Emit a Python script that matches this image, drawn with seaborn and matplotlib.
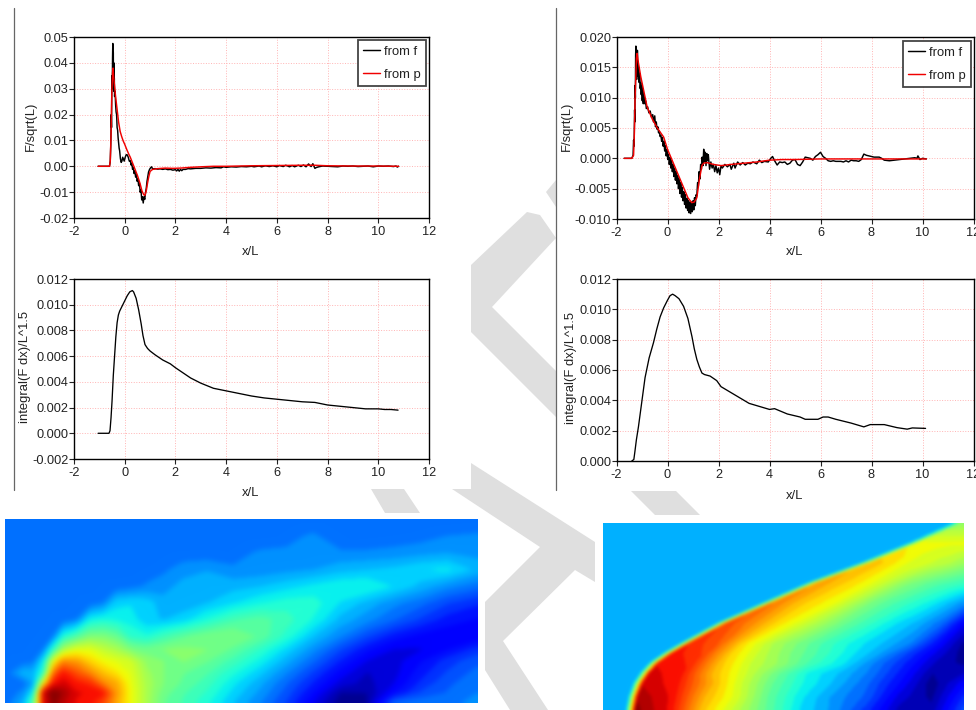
import numpy as np
import pandas as pd
import seaborn as sns
import matplotlib
matplotlib.use("Agg")
import matplotlib.pyplot as plt
from matplotlib.patches import Polygon
from matplotlib.ticker import FormatStrFormatter, MultipleLocator

# === Values ===
left_f_x = [-1.05, -0.60, -0.57, -0.55, -0.53, -0.52, -0.51, -0.50, -0.49, -0.48,
            -0.47, -0.46, -0.45, -0.44, -0.43, -0.42, -0.41, -0.40, -0.38, -0.36,
            -0.34, -0.32, -0.30, -0.28, -0.26, -0.24, -0.22, -0.20, -0.17, -0.14,
            -0.11, -0.08, -0.05, -0.02, 0.02, 0.06, 0.10, 0.14, 0.18, 0.22,
            0.25, 0.28, 0.31, 0.34, 0.37, 0.40, 0.43, 0.46, 0.49, 0.52,
            0.55, 0.58, 0.61, 0.64, 0.67, 0.70, 0.73, 0.76, 0.79, 0.82,
            0.85, 0.88, 0.91, 0.94, 0.98, 1.02, 1.06, 1.10, 1.20, 1.30,
            1.40, 1.50, 1.60, 1.70, 1.80, 1.90, 2.00, 2.05, 2.10, 2.15,
            2.20, 2.25, 2.30, 2.40, 2.50, 2.60, 2.80, 3.00, 3.20, 3.40,
            3.60, 3.80, 3.90, 4.00, 4.20, 4.40, 4.60, 4.80, 5.00, 5.10,
            5.30, 5.40, 5.55, 5.70, 5.85, 6.00, 6.10, 6.25, 6.35, 6.50,
            6.60, 6.70, 6.85, 6.95, 7.05, 7.15, 7.25, 7.35, 7.42, 7.50,
            7.55, 7.65, 7.80, 8.00, 8.20, 8.40, 8.60, 8.80, 9.00, 9.20,
            9.40, 9.60, 9.80, 10.00, 10.20, 10.40, 10.60, 10.70, 10.75, 10.80]
left_f_y = [0, 0, 0.002, 0.008, 0.020, 0.015, 0.030, 0.035, 0.030, 0.042,
            0.0475, 0.032, 0.044, 0.030, 0.040, 0.029, 0.034, 0.027, 0.029, 0.024,
            0.021, 0.020, 0.015, 0.014, 0.011, 0.009, 0.007, 0.006, 0.003, 0.0015,
            0.002, 0.0035, 0.0028, 0.002, 0.0035, 0.0045, 0.0044, 0.0035, 0.002, 0.0022,
            0.0005, 0.0012, -0.0012, -0.0005, -0.0028, -0.0018, -0.0042, -0.0032, -0.0058, -0.0048,
            -0.0075, -0.0066, -0.0100, -0.0090, -0.0130, -0.0118, -0.0142, -0.0118, -0.0128, -0.0102,
            -0.0085, -0.0058, -0.0040, -0.0022, -0.0012, -0.0006, -0.0002, -0.0010, -0.0009, -0.0011,
            -0.0010, -0.0012, -0.0010, -0.0013, -0.0012, -0.0015, -0.0013, -0.0018, -0.0012, -0.0019,
            -0.0012, -0.0017, -0.0012, -0.0012, -0.0009, -0.0010, -0.0008, -0.0008, -0.0006, -0.0007,
            -0.0005, -0.0006, -0.0002, -0.0004, -0.0002, -0.0003, -0.0001, -0.0002, 0.0000, -0.0002,
            0.0001, -0.0002, 0.0002, -0.0001, 0.0002, -0.0002, 0.0003, -0.0001, 0.0004, -0.0002,
            0.0003, -0.0002, 0.0004, -0.0001, 0.0005, -0.0002, 0.0009, -0.0001, 0.0010, -0.0008,
            -0.0005, -0.0002, 0.0001, 0.0000, -0.0001, -0.0002, 0.0001, 0.0000, 0.0001, -0.0001,
            0.0000, 0.0001, -0.0002, 0.0001, 0.0000, 0.0001, -0.0001, 0.0001, -0.0003, 0.0000]

left_p_x = [-1.05, -0.60, -0.57, -0.54, -0.51, -0.48, -0.46, -0.44, -0.40, -0.36,
            -0.30, -0.24, -0.18, -0.12, -0.06, 0.0, 0.08, 0.16, 0.22, 0.3,
            0.4, 0.5, 0.6, 0.68, 0.75, 0.80, 0.85, 0.90, 0.95, 1.0,
            1.1, 1.3, 1.6, 1.9, 2.2, 2.6, 3, 3.5, 4, 4.5,
            5, 6, 7, 7.5, 8, 9, 10, 10.8]
left_p_y = [0, 0, 0.002, 0.012, 0.028, 0.036, 0.038, 0.035, 0.031, 0.027,
            0.022, 0.017, 0.0135, 0.0115, 0.0098, 0.0085, 0.0065, 0.0047, 0.0035, 0.0015,
            -0.001, -0.0035, -0.0065, -0.0095, -0.011, -0.0112, -0.0095, -0.0065, -0.004, -0.002,
            -0.0012, -0.0009, -0.0007, -0.0008, -0.0007, -0.0004, -0.0002, 0, 0, 0.0001,
            0.0002, 0.0003, 0.0004, 0.0004, 0.0002, 0.0001, 0.0001, 0]

right_f_x = [-1.70, -1.40, -1.35, -1.33, -1.31, -1.29, -1.28, -1.27, -1.26, -1.25,
             -1.24, -1.23, -1.22, -1.21, -1.20, -1.19, -1.18, -1.17, -1.16, -1.15,
             -1.13, -1.11, -1.09, -1.07, -1.05, -1.03, -1.01, -0.99, -0.97, -0.95,
             -0.92, -0.89, -0.86, -0.83, -0.78, -0.73, -0.68, -0.63, -0.58, -0.55,
             -0.50, -0.47, -0.44, -0.41, -0.38, -0.35, -0.32, -0.29, -0.26, -0.23,
             -0.20, -0.17, -0.14, -0.11, -0.08, -0.05, -0.02, 0.01, 0.04, 0.07,
             0.10, 0.13, 0.16, 0.19, 0.22, 0.25, 0.28, 0.31, 0.34, 0.37,
             0.40, 0.43, 0.46, 0.49, 0.52, 0.55, 0.58, 0.61, 0.64, 0.67,
             0.70, 0.73, 0.76, 0.79, 0.82, 0.85, 0.88, 0.91, 0.94, 0.97,
             1.00, 1.03, 1.06, 1.09, 1.12, 1.15, 1.18, 1.21, 1.24, 1.27,
             1.30, 1.33, 1.36, 1.39, 1.42, 1.45, 1.48, 1.51, 1.54, 1.57,
             1.60, 1.65, 1.70, 1.75, 1.80, 1.85, 1.90, 1.95, 2.00, 2.05,
             2.10, 2.15, 2.25, 2.35, 2.45, 2.50, 2.60, 2.65, 2.75, 2.85,
             2.95, 3.05, 3.15, 3.25, 3.35, 3.50, 3.60, 3.70, 3.80, 3.95,
             4.05, 4.12, 4.20, 4.30, 4.40, 4.50, 4.60, 4.70, 4.80, 4.90,
             5.00, 5.10, 5.20, 5.30, 5.40, 5.50, 5.60, 5.70, 5.80, 5.90,
             6.00, 6.10, 6.20, 6.30, 6.40, 6.50, 6.60, 6.80, 6.90, 7.00,
             7.10, 7.20, 7.30, 7.40, 7.50, 7.60, 7.70, 7.80, 7.90, 8.10,
             8.30, 8.40, 8.50, 8.70, 8.90, 9.10, 9.30, 9.50, 9.70, 9.78,
             9.82, 9.90, 10.00, 10.15]
right_f_y = [0, 0, 0.0005, 0.003, 0.002, 0.008, 0.006, 0.012, 0.010, 0.017,
             0.0185, 0.014, 0.017, 0.013, 0.016, 0.014, 0.0178, 0.014, 0.016, 0.0135,
             0.015, 0.0125, 0.014, 0.0115, 0.0125, 0.0105, 0.012, 0.0095, 0.0115, 0.0090,
             0.0105, 0.0090, 0.0095, 0.0082, 0.0085, 0.0075, 0.0078, 0.0068, 0.0072, 0.0060,
             0.0070, 0.0052, 0.0060, 0.0048, 0.0052, 0.0042, 0.0045, 0.0036, 0.0038, 0.0028,
             0.0034, 0.0020, 0.0028, 0.0012, 0.0021, 0.0004, 0.0014, -0.0002, 0.0007, -0.0010,
             0.0001, -0.0016, -0.0004, -0.0022, -0.0010, -0.0030, -0.0016, -0.0036, -0.0022, -0.0042,
             -0.0028, -0.0050, -0.0034, -0.0058, -0.0040, -0.0064, -0.0048, -0.0070, -0.0055, -0.0076,
             -0.0060, -0.0082, -0.0066, -0.0086, -0.0070, -0.0090, -0.0072, -0.0091, -0.0072, -0.0088,
             -0.0070, -0.0085, -0.0065, -0.0078, -0.0060, -0.0062, -0.0040, -0.0045, -0.0022, -0.0034,
             -0.0010, -0.0018, 0.0002, -0.0012, 0.0015, -0.0006, 0.0010, -0.0012, 0.0008, -0.0004,
             0.0006, -0.0018, -0.0006, -0.0016, -0.0010, -0.0022, -0.0012, -0.0024, -0.0016, -0.0027,
             -0.0012, -0.0016, -0.0010, -0.0014, -0.0010, -0.0018, -0.0008, -0.0016, -0.0006, -0.0011,
             -0.0007, -0.0011, -0.0008, -0.0009, -0.0006, -0.0009, -0.0003, -0.0007, -0.0005, -0.0006,
             0.0000, 0.0003, -0.0004, -0.0011, -0.0006, -0.0007, -0.0006, -0.0010, -0.0008, -0.0003,
             -0.0002, -0.0010, -0.0012, -0.0006, 0.0002, 0.0001, 0.0000, -0.0003, 0.0003, 0.0006,
             0.0010, 0.0003, 0.0000, -0.0004, -0.0005, -0.0004, -0.0005, -0.0005, -0.0006, -0.0004,
             -0.0006, -0.0003, -0.0004, -0.0004, -0.0005, -0.0002, 0.0007, 0.0005, 0.0004, 0.0002,
             0.0002, 0.0000, -0.0003, -0.0004, -0.0003, -0.0002, -0.0001, 0.0000, 0.0001, 0.0000,
             0.0004, -0.0002, 0.0000, -0.0001]

right_p_x = [-1.7, -1.4, -1.33, -1.3, -1.27, -1.22, -1.19, -1.15, -1.05, -0.9,
             -0.8, -0.6, -0.4, -0.15, 0, 0.2, 0.4, 0.6, 0.8, 0.95,
             1.05, 1.15, 1.25, 1.35, 1.42, 1.55, 1.8, 2.1, 2.5, 3,
             3.5, 4, 4.5, 5, 6, 7, 8, 9, 10.15]
right_p_y = [0, 0, 0.0005, 0.004, 0.01, 0.0165, 0.0173, 0.016, 0.0135, 0.0105,
             0.0085, 0.0065, 0.005, 0.0035, 0.0015, -0.0005, -0.0025, -0.0045, -0.0065, -0.0073,
             -0.0072, -0.0065, -0.0035, -0.0012, -0.0008, -0.0007, -0.001, -0.0012, -0.001, -0.0008,
             -0.0006, -0.0003, -0.0002, -0.0002, -0.0001, -0.0001, -0.0001, -0.0001, -0.0001]

left_int_x = [-1.05, -0.62, -0.58, -0.54, -0.5, -0.45, -0.4, -0.35, -0.3, -0.25,
              -0.2, -0.15, -0.1, 0, 0.1, 0.2, 0.3, 0.35, 0.45, 0.55,
              0.65, 0.72, 0.8, 0.9, 1.0, 1.2, 1.5, 1.8, 2.0, 2.3,
              2.6, 3, 3.5, 4, 4.5, 5, 5.5, 6, 6.5, 7,
              7.5, 8, 8.5, 9, 9.5, 10, 10.25, 10.5, 10.78]
left_int_y = [0, 0, 0.0002, 0.0012, 0.0025, 0.0045, 0.006, 0.0075, 0.0086, 0.0092,
              0.0095, 0.0097, 0.0099, 0.0103, 0.0107, 0.011, 0.0111, 0.011, 0.0105, 0.0096,
              0.0085, 0.0076, 0.0069, 0.0066, 0.0064, 0.0061, 0.0057, 0.0054, 0.0051, 0.0047,
              0.0043, 0.0039, 0.0035, 0.0033, 0.0031, 0.0029, 0.00275, 0.00265, 0.00255, 0.00245,
              0.0024, 0.0022, 0.0021, 0.002, 0.0019, 0.0019, 0.00185, 0.00185, 0.0018]

right_int_x = [-1.40, -1.32, -1.28, -1.22, -1.14, -1.0, -0.88, -0.72, -0.55, -0.42,
               -0.29, -0.15, 0, 0.1, 0.2, 0.3, 0.45, 0.63, 0.8, 0.96,
               1.05, 1.15, 1.25, 1.35, 1.45, 1.67, 1.93, 2.1, 2.6, 3.2,
               4.0, 4.2, 4.7, 5.2, 5.4, 5.9, 6.1, 6.3, 6.6, 7.2,
               7.7, 7.95, 8.5, 9.0, 9.4, 9.6, 10.12]
right_int_y = [0, 0.0001, 0.0006, 0.0014, 0.00225, 0.004, 0.0055, 0.0068, 0.0078, 0.0087,
               0.0095, 0.0101, 0.0106, 0.0109, 0.011, 0.0109, 0.0107, 0.0102, 0.0094, 0.0082,
               0.0074, 0.0067, 0.0062, 0.0058, 0.0057, 0.0056, 0.0053, 0.0049, 0.0044, 0.0038,
               0.0034, 0.00345, 0.0031, 0.0029, 0.00275, 0.00275, 0.0029, 0.0029, 0.00275, 0.0025,
               0.00225, 0.0024, 0.0024, 0.0022, 0.0021, 0.00218, 0.00215]

# left colour field: sample columns, sample rows (top first), values 0-1 on the jet scale
field_left_x = [15, 70, 100, 130, 160, 190, 230, 270, 310, 350, 390, 440, 490, 550, 620, 700,
                780, 860, 940, 1020, 1100, 1180, 1260, 1340, 1433]
field_left_y = [28, 80, 130, 180, 230, 280, 330, 380, 420, 455, 490, 520, 550, 580]
field_left = [
    [.225] * 25,
    [.225] * 17 + [.24, .255, .225, .225, .23, .235, .25, .255],
    [.225] * 15 + [.235, .255, .255, .255, .255, .255, .26, .27, .28, .27],
    [.225] * 12 + [.24, .27, .28, .255, .26, .27, .28, .30, .31, .32, .34, .35, .30],
    [.225] * 10 + [.235, .255, .27, .29, .29, .30, .31, .33, .35, .37, .375, .34, .30, .26, .23],
    [.225] * 8 + [.25, .33, .34, .33, .29, .29, .31, .34, .37, .39, .39, .34, .30, .26, .23, .19, .16],
    [.225] * 6 + [.25, .36, .38, .37, .36, .32, .31, .33, .38, .43, .45, .42, .37, .30, .26, .22, .18, .14, .12],
    [.225] * 4 + [.25, .38, .44, .50, .50, .47, .40, .38, .42, .46, .49, .50, .46, .39, .31, .25, .19, .14, .11, .10, .10],
    [.225, .225, .225, .25, .40, .55, .62, .62, .58, .55, .50, .48, .50, .51, .50, .46, .40, .33, .26, .19, .13, .09, .09, .12, .17],
    [.225, .23, .24, .35, .62, .76, .74, .68, .64, .62, .60, .52, .50, .50, .47, .42, .36, .29, .22, .15, .09, .08, .12, .17, .21],
    [.225, .30, .30, .40, .78, .88, .82, .76, .70, .66, .62, .54, .50, .47, .44, .38, .32, .25, .18, .11, .06, .08, .14, .19, .23],
    [.225, .23, .28, .62, .88, .92, .88, .86, .76, .72, .63, .55, .50, .46, .42, .35, .29, .22, .15, .08, .05, .09, .16, .21, .24],
    [.225, .26, .36, .92, 1.0, .96, .91, .90, .88, .74, .64, .55, .48, .44, .40, .33, .27, .20, .12, .03, .03, .12, .19, .22, .25],
    [.225, .30, .45, .90, .98, .94, .90, .88, .82, .72, .64, .55, .47, .43, .38, .31, .25, .18, .09, .01, .03, .22, .24, .24, .26],
]

# right colour field: sample rows, where the front sits in each row,
# then the value just behind the front and at ten steps from there to the right edge
field_right_y = [40, 100, 160, 220, 280, 340, 400, 430, 460, 490, 520, 560, 600]
field_right_front = [1105, 975, 830, 670, 535, 400, 290, 238, 195, 168, 148, 133, 125]
field_right_bg = 0.29
field_right = [
    [.52, .52, .52, .52, .52, .52, .52, .52, .52, .52, .52],
    [.64, .63, .63, .63, .63, .63, .63, .63, .63, .63, .63],
    [.70, .69, .67, .64, .62, .61, .60, .58, .57, .55, .53],
    [.74, .71, .68, .65, .61, .56, .51, .48, .45, .43, .41],
    [.78, .72, .67, .64, .57, .50, .45, .41, .37, .32, .26],
    [.83, .76, .68, .61, .54, .47, .41, .35, .30, .23, .10],
    [.87, .81, .66, .56, .49, .42, .36, .31, .25, .13, .02],
    [.89, .84, .68, .58, .50, .43, .36, .29, .19, .09, .01],
    [.90, .87, .70, .59, .52, .42, .35, .25, .16, .06, .02],
    [.92, .88, .71, .60, .48, .37, .31, .24, .14, .03, .06],
    [.93, .89, .74, .60, .47, .37, .30, .22, .12, .01, .11],
    [.96, .90, .72, .61, .46, .35, .27, .21, .08, .02, .16],
    [.98, .90, .70, .58, .46, .34, .27, .17, .05, .04, .20],
]

# === Setup ===
W, H = 976, 710
FONT = 9.2
LABEL_FONT = 9.4
sns.set_theme(style="white", rc={
    "axes.unicode_minus": False,
    "axes.linewidth": 1.0,
    "axes.edgecolor": "black",
    "xtick.bottom": True,
    "ytick.left": True,
    "xtick.major.size": 3.5,
    "ytick.major.size": 3.5,
    "xtick.major.width": 0.8,
    "ytick.major.width": 0.8,
    "xtick.major.pad": 2,
    "ytick.major.pad": 0.4,
    "xtick.color": "#222222",
    "ytick.color": "#222222",
})
plt.rcParams["font.family"] = ["Liberation Sans", "DejaVu Sans"]

fig = plt.figure(figsize=(W / 100, H / 100), dpi=100)


def box(x0, y0, x1, y1):
    # pixel box, y counted from the top, to figure fractions
    return [x0 / W, 1 - y1 / H, (x1 - x0) / W, (y1 - y0) / H]


def long_table(x_f, y_f, x_p, y_p):
    f = pd.DataFrame({"x": x_f, "y": y_f, "src": "from f"})
    p = pd.DataFrame({"x": x_p, "y": y_p, "src": "from p"})
    return pd.concat([f, p], ignore_index=True)


def style_axes(ax, ylim, ystep, yfmt, ylabel, ylabel_px, xlabel_px):
    ax.set_xlim(-2, 12)
    ax.set_ylim(*ylim)
    ax.xaxis.set_major_locator(MultipleLocator(2))
    ax.yaxis.set_major_locator(MultipleLocator(ystep))
    ax.yaxis.set_major_formatter(FormatStrFormatter(yfmt))
    ax.tick_params(labelsize=FONT, labelcolor="#222222")
    ax.grid(True, color="#ffb4b4", linestyle=":", linewidth=0.7)
    ax.set_axisbelow(True)
    ax.set_xlabel("x/L", fontsize=LABEL_FONT, color="#222222", va="center")
    ax.set_ylabel(ylabel, fontsize=LABEL_FONT, color="#222222", va="center")
    ax.xaxis.set_label_coords(xlabel_px[0] / W, 1 - xlabel_px[1] / H, transform=fig.transFigure)
    ax.yaxis.set_label_coords(ylabel_px[0] / W, 1 - ylabel_px[1] / H, transform=fig.transFigure)


def force_panel(rect, table, legend_corner):
    ax = fig.add_axes(box(*rect))
    sns.lineplot(data=table, x="x", y="y", hue="src", palette={"from f": "black", "from p": "#f00000"},
                 estimator=None, sort=False, linewidth=1.05, ax=ax)
    ax.legend(loc="upper right", bbox_to_anchor=(legend_corner[0] / W, 1 - legend_corner[1] / H),
              bbox_transform=fig.transFigure, borderaxespad=0, fancybox=False,
              framealpha=1, edgecolor="#444444", fontsize=LABEL_FONT, handlelength=1.25, handletextpad=0.32,
              labelspacing=0.85, borderpad=0.42, title=None)
    ax.get_legend().get_frame().set_linewidth(1.3)
    for t in ax.get_legend().get_texts():
        t.set_color("#222222")
    return ax


def integral_panel(rect, x, y):
    ax = fig.add_axes(box(*rect))
    sns.lineplot(x=x, y=y, color="black", estimator=None, sort=False, linewidth=0.95, ax=ax)
    return ax


def soften(passes):
    # the original pictures are blurry scans, so blur the drawn bands a little
    kernel = np.array([1, 2, 3, 2, 1]) / 9

    def agg_filter(img, dpi):
        out = img.copy()
        for _ in range(passes):
            for axis in (0, 1):
                padded = np.pad(out[..., :3], [(2, 2) if a == axis else (0, 0) for a in range(3)], mode="edge")
                out[..., :3] = np.apply_along_axis(lambda r: np.convolve(r, kernel, mode="valid"), axis, padded)
        return out, 0, 0

    return agg_filter


def field_panel(rect, X, Y, C, xlim, ylim, passes):
    # filled bands, like the contour steps of the original
    ax = fig.add_axes(box(*rect))
    bands = ax.contourf(X, Y, C, levels=np.linspace(0, 1, 33), cmap="jet", vmin=0, vmax=1)
    bands.set_agg_filter(soften(passes))
    ax.set_xlim(*xlim)
    ax.set_ylim(*ylim)
    ax.set_axis_off()


def right_field_mesh():
    # mesh that follows the front, so the sharp edge stays sharp
    steps = np.arange(1, 11) / 10
    X, C = [], []
    for front, row in zip(field_right_front, field_right):
        start = front + 14
        X.append([40, front - 16, start] + list(start + steps * (1122 - start)))
        C.append([field_right_bg, field_right_bg] + row)
    Y = [[y] * len(X[0]) for y in field_right_y]
    return np.array(X, dtype=float), np.array(Y, dtype=float), np.array(C)


# === Watermark pieces and the two divider lines, drawn behind everything ===
watermark = [
    [(471, 265), (527, 212), (540, 215), (556, 238), (492, 307), (556, 371), (556, 417), (471, 332)],
    [(556, 180), (546, 192), (556, 207)],
    [(371, 489), (404, 489), (420, 513), (385, 513)],
    [(471, 463), (595, 542), (595, 582), (575, 570), (503, 641), (548, 710), (510, 710),
     (485, 670), (485, 602), (540, 547), (452, 489), (471, 489)],
    [(631, 491), (676, 491), (700, 515), (655, 515)],
]
for piece in watermark:
    pts = [(px / W, 1 - py / H) for px, py in piece]
    fig.add_artist(Polygon(pts, closed=True, transform=fig.transFigure, facecolor="#dfdfdf",
                           edgecolor="none", zorder=-1))
for px in (14.2, 556.2):
    fig.add_artist(plt.Line2D([px / W, px / W], [1 - 8 / H, 1 - 490 / H], transform=fig.transFigure,
                              color="#666666", linewidth=0.9))

# === Panels ===
top_left = force_panel((74, 37, 429, 218), long_table(left_f_x, left_f_y, left_p_x, left_p_y), (426, 40))
style_axes(top_left, (-0.02, 0.05), 0.01, "%.2f", "F/sqrt(L)", (31, 126), (251, 252))

top_right = force_panel((616.5, 37, 973.5, 219), long_table(right_f_x, right_f_y, right_p_x, right_p_y), (971, 41))
style_axes(top_right, (-0.010, 0.020), 0.005, "%.3f", "F/sqrt(L)", (567, 126), (795, 252))

low_left = integral_panel((74, 279, 429, 459), left_int_x, left_int_y)
style_axes(low_left, (-0.002, 0.012), 0.002, "%.3f", "integral(F dx)/L^1.5", (25, 367), (251, 493))

low_right = integral_panel((616.5, 279, 973.5, 461), right_int_x, right_int_y)
style_axes(low_right, (0.0, 0.012), 0.002, "%.3f", "integral(F dx)/L^1.5", (571, 368), (795, 496))

field_panel((5, 519, 478, 703), field_left_x, field_left_y, field_left, (15, 1433), (580, 28), 5)
right_X, right_Y, right_C = right_field_mesh()
field_panel((603, 523, 964, 710), right_X, right_Y, right_C, (40, 1122), (600, 40), 2)

fig.savefig("out.png", dpi=100)
